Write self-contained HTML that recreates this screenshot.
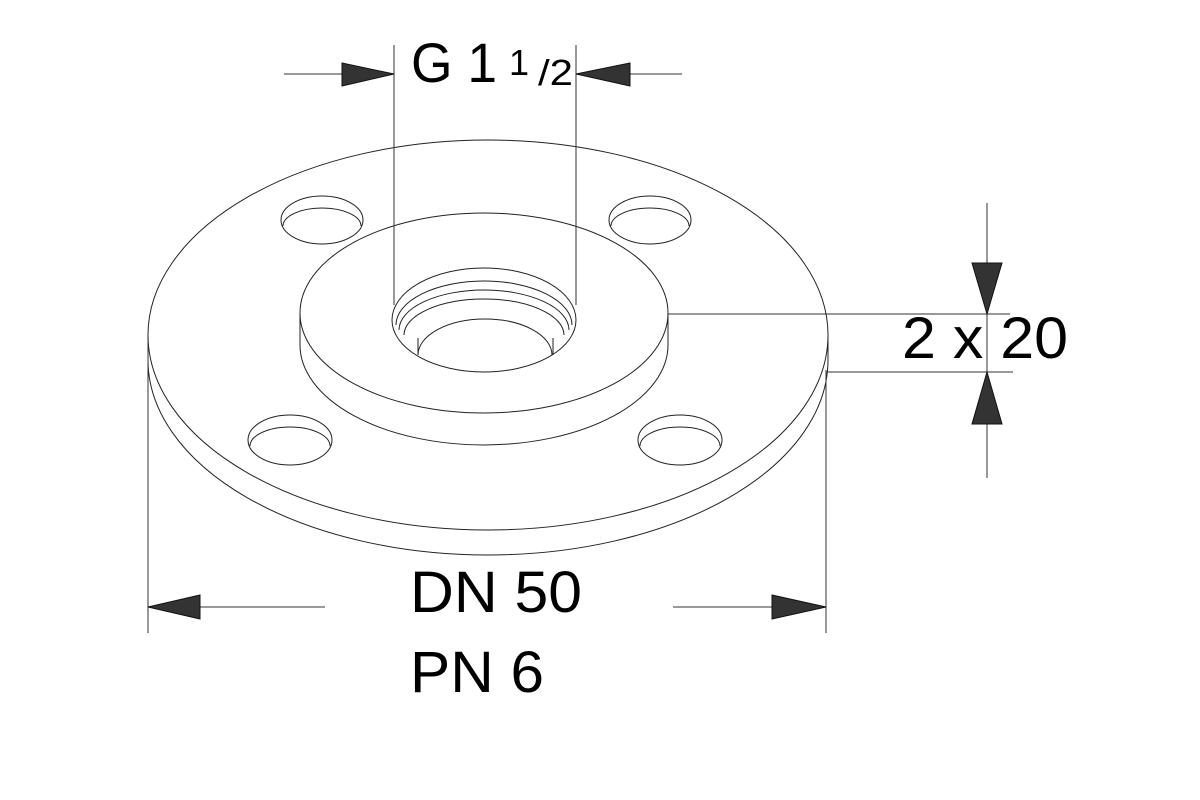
<!DOCTYPE html>
<html><head><style>html,body{margin:0;padding:0;background:#fff;}svg{display:block;}</style></head>
<body>
<svg width="1200" height="800" viewBox="0 0 1200 800" xmlns="http://www.w3.org/2000/svg">
<rect width="1200" height="800" fill="#fff"/>
<g fill="none" stroke="#222" stroke-width="1">
<path d="M148,335 A340,195 0 0 1 828,335"/>
<path d="M148,335 A340,195 0 0 0 828,335"/>
<path d="M148,360 A340,195 0 0 0 828,360"/>
<line x1="148" y1="335" x2="148" y2="360"/>
<line x1="828" y1="335" x2="828" y2="360"/>
<ellipse cx="484" cy="313" rx="184" ry="100"/>
<path d="M300,313 L300,345 A184,100 0 0 0 668,345 L668,313"/>
<ellipse cx="484" cy="320" rx="92" ry="52"/>
<path d="M396,325 A88,44 0 0 1 572,325"/>
<path d="M399,330 A85,40 0 0 1 569,330"/>
<path d="M404,335 A80,36 0 0 1 564,335"/>
<path d="M418,355 A67,36 0 0 1 552,355"/>
<line x1="418" y1="338" x2="418" y2="355"/>
<line x1="553" y1="338" x2="553" y2="355"/>
<ellipse cx="322" cy="220" rx="41" ry="24"/>
<path d="M283,226 A39,18 0 0 1 361,226"/>
<ellipse cx="650" cy="220" rx="41" ry="24"/>
<path d="M611,226 A39,18 0 0 1 689,226"/>
<ellipse cx="290" cy="440" rx="42" ry="25"/>
<path d="M250,446 A40,19 0 0 1 330,446"/>
<ellipse cx="680" cy="440" rx="42" ry="25"/>
<path d="M640,446 A40,19 0 0 1 720,446"/>
</g>
<g stroke="#333" stroke-width="1" fill="none">
<line x1="394" y1="45" x2="394" y2="305"/>
<line x1="576" y1="45" x2="576" y2="305"/>
<line x1="284" y1="74" x2="394" y2="74"/>
<line x1="576" y1="74" x2="682" y2="74"/>
<line x1="987" y1="203" x2="987" y2="478"/>
<line x1="668" y1="314" x2="1010" y2="314"/>
<line x1="826" y1="372" x2="1013" y2="372"/>
<line x1="148" y1="340" x2="148" y2="633"/>
<line x1="826" y1="370" x2="826" y2="633"/>
<line x1="148" y1="607" x2="325" y2="607"/>
<line x1="673" y1="607" x2="826" y2="607"/>
</g>
<g fill="#333" stroke="#111" stroke-width="1">
<polygon points="342,63 394,74 342,86"/>
<polygon points="630,63 576,74 630,86"/>
<polygon points="972,263 1002,263 987,314"/>
<polygon points="972,424 1002,424 987,372"/>
<polygon points="200,595 148,607 200,619"/>
<polygon points="772,595 826,607 772,619"/>
</g>
<g font-family="'Liberation Sans', sans-serif" fill="#000">
<text x="411" y="82" font-size="56" textLength="86" lengthAdjust="spacingAndGlyphs">G 1</text>
<text x="509" y="75" font-size="36">1</text>
<text x="538" y="85" font-size="36" textLength="35" lengthAdjust="spacingAndGlyphs">/2</text>
<text x="902" y="358" font-size="58" textLength="166" lengthAdjust="spacingAndGlyphs">2 x 20</text>
<text x="410" y="612" font-size="58" textLength="172" lengthAdjust="spacingAndGlyphs">DN 50</text>
<text x="410" y="692" font-size="58" textLength="134" lengthAdjust="spacingAndGlyphs">PN 6</text>
</g>
</svg>
</body></html>
